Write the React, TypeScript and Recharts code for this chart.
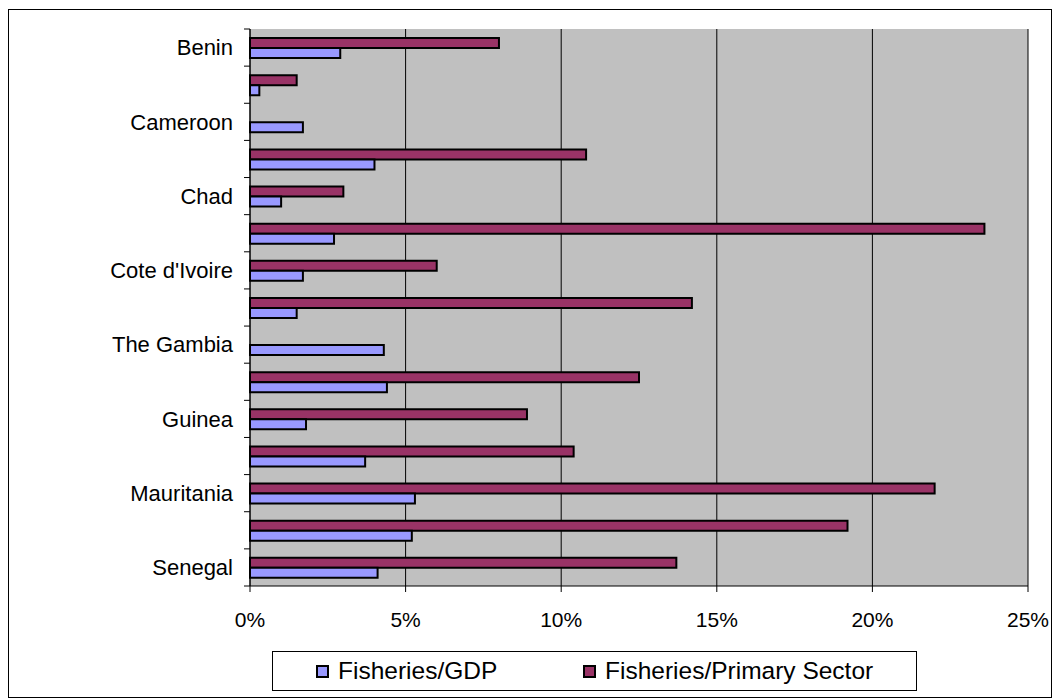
import { Bar, BarChart, CartesianGrid, Legend, XAxis, YAxis } from 'recharts'

const countries = [
  'Benin',
  'Burkina Faso',
  'Cameroon',
  'Cape Verde',
  'Chad',
  'Congo',
  "Cote d'Ivoire",
  'Gabon',
  'The Gambia',
  'Ghana',
  'Guinea',
  'Guinea-Bissau',
  'Mauritania',
  'Nigeria',
  'Senegal',
]
const fisheriesGdp = [2.9, 0.3, 1.7, 4.0, 1.0, 2.7, 1.7, 1.5, 4.3, 4.4, 1.8, 3.7, 5.3, 5.2, 4.1]
const fisheriesPrimary = [8.0, 1.5, null, 10.8, 3.0, 23.6, 6.0, 14.2, null, 12.5, 8.9, 10.4, 22.0, 19.2, 13.7]
const percentTicks = [0, 5, 10, 15, 20, 25]

const SERIES = [
  { key: 'gdp', name: 'Fisheries/GDP', color: '#9999FF' },
  { key: 'primary', name: 'Fisheries/Primary Sector', color: '#993366' },
]

const FONT = '"Liberation Sans", Arial, sans-serif'
const CHART_W = 1042
const CHART_H = 687
const MARGIN = { top: 19, right: 23, bottom: 6, left: 0 }
const X_AXIS_H = 65
const LEGEND_H = 40
const PLOT_H = CHART_H - MARGIN.top - MARGIN.bottom - LEGEND_H - X_AXIS_H
const BAND = PLOT_H / countries.length
const TICK_SIZE = 6
const Y_TICK_MARGIN = 11

const rows = countries.map((country, i) => ({
  country,
  gdp: fisheriesGdp[i],
  primary: fisheriesPrimary[i],
}))

function CategoryTick(props: any) {
  const { x, y, payload, index } = props
  const axisX = x + Y_TICK_MARGIN + TICK_SIZE
  const half = BAND / 2
  return (
    <g>
      <line x1={axisX - TICK_SIZE} x2={axisX} y1={y - half} y2={y - half} stroke="#000" />
      {index === countries.length - 1 && (
        <line x1={axisX - TICK_SIZE} x2={axisX} y1={y + half} y2={y + half} stroke="#000" />
      )}
      {index % 2 === 0 && (
        <text x={x} y={y} dy="0.355em" textAnchor="end" fontSize={22} fontFamily={FONT} fill="#000">
          {payload.value}
        </text>
      )}
    </g>
  )
}

function LegendBox() {
  const offsets = [43, 310]
  return (
    <div
      style={{
        position: 'relative',
        width: 645,
        height: LEGEND_H,
        boxSizing: 'border-box',
        border: '1px solid #000',
        background: '#fff',
        fontFamily: FONT,
        fontSize: 24.5,
        color: '#000',
      }}
    >
      {SERIES.map((s, i) => (
        <div
          key={s.key}
          style={{
            position: 'absolute',
            left: offsets[i],
            top: 0,
            height: LEGEND_H - 2,
            display: 'flex',
            alignItems: 'center',
            whiteSpace: 'nowrap',
          }}
        >
          <span
            style={{
              display: 'inline-block',
              width: 9,
              height: 9,
              border: '2px solid #000',
              background: s.color,
              marginRight: 9,
            }}
          />
          {s.name}
        </div>
      ))}
    </div>
  )
}

export default function App() {
  return (
    <div
      style={{
        position: 'fixed',
        left: 8,
        top: 9,
        width: CHART_W + 2,
        height: CHART_H + 2,
        boxSizing: 'border-box',
        border: '1px solid #000',
        background: '#fff',
      }}
    >
      <BarChart
        width={CHART_W}
        height={CHART_H}
        data={rows}
        layout="vertical"
        margin={MARGIN}
        barSize={10}
        barGap={0}
      >
        <CartesianGrid horizontal={false} stroke="#000" fill="#C0C0C0" fillOpacity={1} />
        <XAxis
          type="number"
          domain={[0, 25]}
          ticks={percentTicks}
          tickFormatter={(v) => `${v}%`}
          height={X_AXIS_H}
          tickSize={TICK_SIZE}
          tickMargin={20}
          axisLine={{ stroke: '#000' }}
          tickLine={{ stroke: '#000' }}
          tick={{ fontSize: 21, fontFamily: FONT, fill: '#000' }}
        />
        <XAxis
          xAxisId="top"
          orientation="top"
          type="number"
          domain={[0, 25]}
          height={0}
          tick={false}
          tickLine={false}
          axisLine={{ stroke: '#808080', strokeWidth: 2 }}
        />
        <YAxis
          type="category"
          dataKey="country"
          width={241}
          interval={0}
          tickSize={TICK_SIZE}
          tickMargin={Y_TICK_MARGIN}
          tickLine={false}
          axisLine={{ stroke: '#000' }}
          tick={<CategoryTick />}
        />
        <YAxis
          yAxisId="right"
          orientation="right"
          type="category"
          dataKey="country"
          width={0}
          tick={false}
          tickLine={false}
          axisLine={{ stroke: '#808080', strokeWidth: 2 }}
        />
        <Bar
          dataKey="primary"
          name={SERIES[1].name}
          fill={SERIES[1].color}
          stroke="#000"
          strokeWidth={2}
          isAnimationActive={false}
        />
        <Bar
          dataKey="gdp"
          name={SERIES[0].name}
          fill={SERIES[0].color}
          stroke="#000"
          strokeWidth={2}
          isAnimationActive={false}
        />
        <Legend
          verticalAlign="bottom"
          align="left"
          content={<LegendBox />}
          wrapperStyle={{ left: 263, bottom: MARGIN.bottom, width: 645 }}
        />
      </BarChart>
    </div>
  )
}
